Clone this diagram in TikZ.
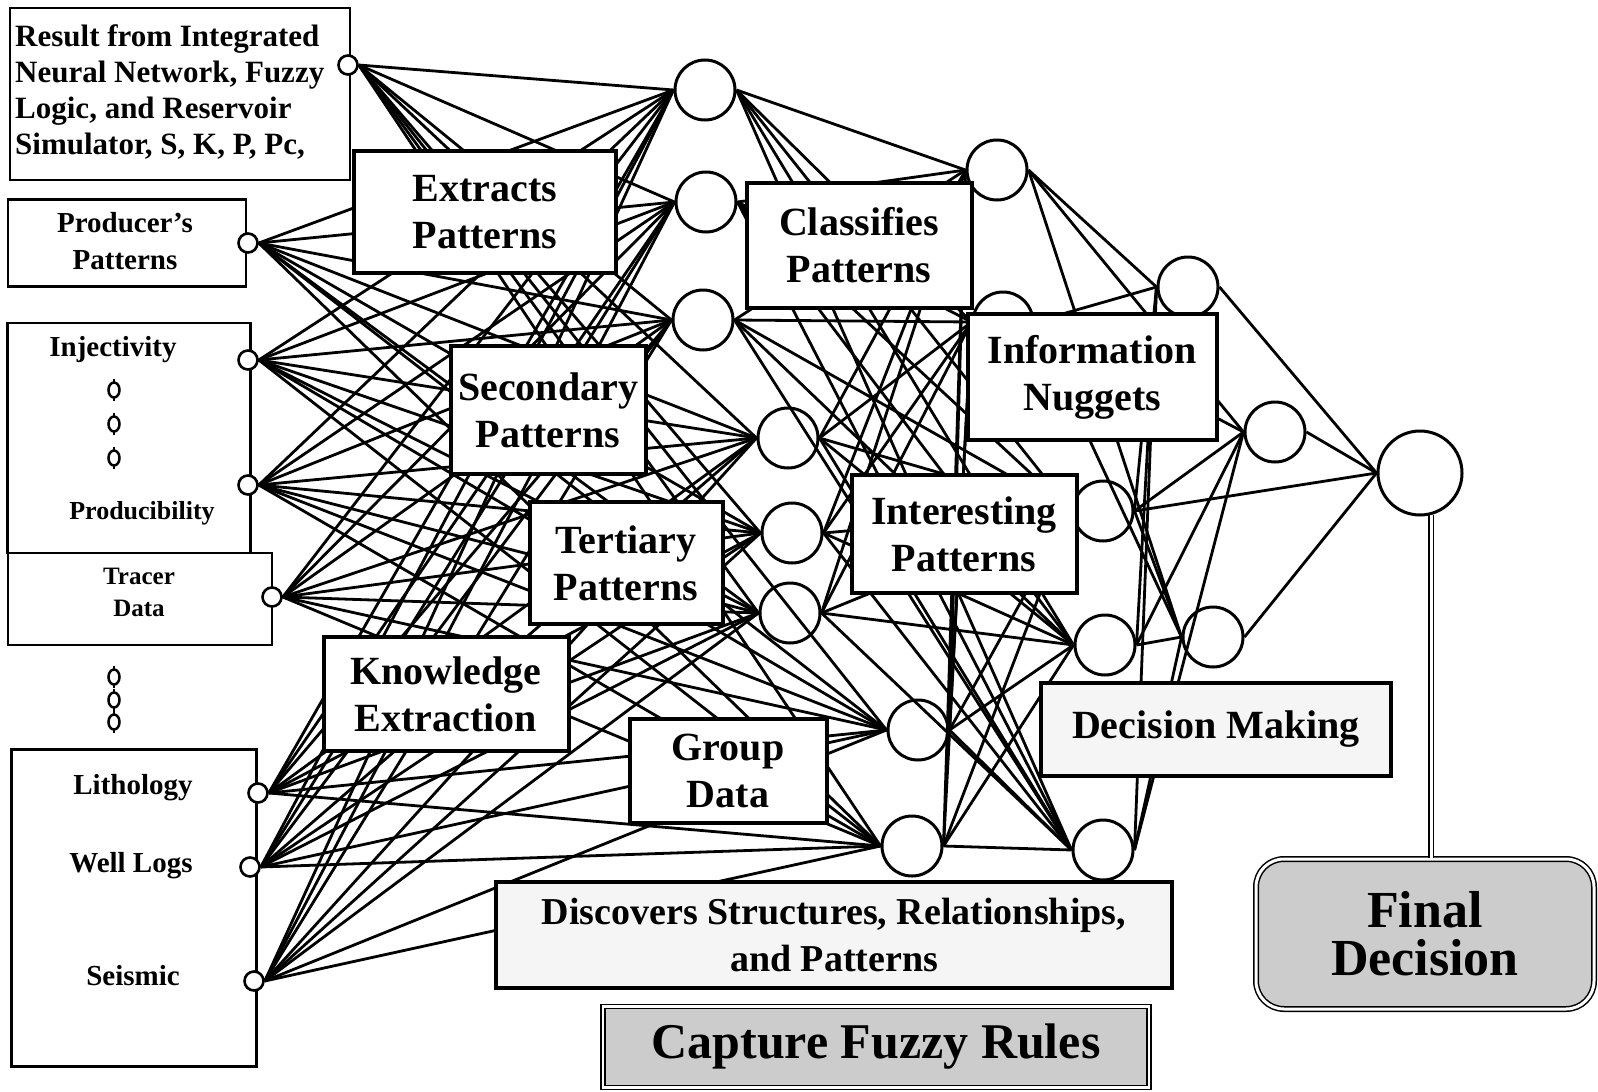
\documentclass[tikz,border=0pt]{standalone}
\usepackage{fontspec}
\setmainfont{Liberation Serif}
\begin{document}
\begin{tikzpicture}[x=1pt,y=-1pt,
  wire/.style={line width=2.8pt},
  lbl/.style={draw,line width=4pt,fill=white,font=\bfseries\fontsize{40}{47}\selectfont,align=center,inner sep=0pt},
  neuron/.style={circle,draw,line width=3pt,fill=white,inner sep=0pt,minimum size=60pt},
  port/.style={circle,draw,line width=2.6pt,fill=white,inner sep=0pt,minimum size=19pt},
  inbox/.style={draw,line width=2.2pt,fill=white,inner sep=0pt},
  intext/.style={font=\bfseries\fontsize{29}{37}\selectfont,align=center,inner sep=0pt},
  dotmark/.style={line width=2.5pt},
]
\useasboundingbox (0,0) rectangle (1598,1092);
\fill[white] (0,0) rectangle (1598,1092);

% ---------- input boxes ----------
\node[inbox,minimum width=340pt,minimum height=172pt] (resbox) at (180,94) {};
\node[intext,align=left,anchor=west,font=\bfseries\fontsize{31}{36}\selectfont] (restxt) at (15,92)
      {Result from Integrated\\Neural Network, Fuzzy\\Logic, and Reservoir\\Simulator, S, K, P, Pc,};
\node[inbox,minimum width=238pt,minimum height=87pt] (prodbox) at (127,243) {};
\node[intext] (prodtxt) at (125,241) {Producer's\\Patterns};
\node[inbox,minimum width=243pt,minimum height=230pt] (injbox) at (129,438) {};
\node[intext] (injtxt) at (113,350) {Injectivity};
\node[intext,font=\bfseries\fontsize{26}{32}\selectfont] (prodiblty) at (142,513) {Producibility};
\node[inbox,minimum width=264pt,minimum height=92pt] (trbox) at (140,599) {};
\node[intext,font=\bfseries\fontsize{25}{32}\selectfont] (trtxt) at (139,592) {Tracer\\Data};
\node[inbox,minimum width=245pt,minimum height=317pt] (litbox) at (134,908) {};
\node[intext] (littxt) at (133,788) {Lithology};
\node[intext] (welltxt) at (131,866) {Well Logs};
\node[intext] (seistxt) at (133,976) {Seismic};
\foreach \y in {390,424,458,677,700,722}{
  \draw[dotmark] (114,\y) ellipse (5.5pt and 7.5pt);
  \draw[line width=1.5pt] (114,\y-11) -- (114,\y-7) (114,\y+7) -- (114,\y+11);
}

% ---------- ports ----------
\node[port] (p1) at (348,65) {};
\node[port] (p2) at (248,243) {};
\node[port] (p3) at (248,360) {};
\node[port] (p4) at (248,485) {};
\node[port] (p5) at (272,597) {};
\node[port] (p6) at (258,793) {};
\node[port] (p7) at (250,867) {};
\node[port] (p8) at (254,981) {};

% ---------- neurons ----------
\node[neuron] (nA) at (705,90) {};
\node[neuron] (nB) at (706,202) {};
\node[neuron] (nC) at (703,320) {};
\node[neuron] (nD) at (788,438) {};
\node[neuron] (nE) at (792,533) {};
\node[neuron] (nF) at (790,613) {};
\node[neuron] (nG) at (918,730) {};
\node[neuron] (nH) at (912,846) {};
\node[neuron] (ma) at (997,170) {};
\node[neuron] (mb) at (1003,322) {};
\node[neuron] (md) at (1103,511) {};
\node[neuron] (me) at (1105,645) {};
\node[neuron] (mf) at (1103,850) {};
\node[neuron] (kc) at (1188,287) {};
\node[neuron] (km) at (1275,432) {};
\node[neuron] (kg) at (1213,637) {};
\node[neuron,minimum size=84pt] (out) at (1420,473) {};

% ---------- wires ----------
\foreach \s in {p1,p2,p3,p4,p5,p6,p7,p8}
  \foreach \t in {nA,nB,nC,nD,nE,nF,nG,nH}
    \draw[wire] (\s.east) -- (\t.west);
\foreach \s in {nA,nB,nC,nD,nE,nF,nG,nH}
  \foreach \t in {ma,mb,md,me,mf}
    \draw[wire] (\s.east) -- (\t.west);
\foreach \s in {ma,mb,md,me,mf}
  \foreach \t in {kc,km,kg}
    \draw[wire] (\s.east) -- (\t.west);
\foreach \s in {kc,km,kg,md}
  \draw[wire] (\s.east) -- (out.west);

% ---------- label boxes ----------
\node[lbl,minimum width=262pt,minimum height=122pt] (extr) at (485,212) {Extracts\\Patterns};
\node[lbl,minimum width=225pt,minimum height=125pt] (clas) at (859,245) {Classifies\\Patterns};
\node[lbl,minimum width=195pt,minimum height=128pt] (secd) at (548,410) {Secondary\\Patterns};
\node[lbl,minimum width=249pt,minimum height=126pt] (info) at (1092,377) {Information\\Nuggets};
\node[lbl,minimum width=193pt,minimum height=122pt] (tert) at (626,563) {Tertiary\\Patterns};
\node[lbl,minimum width=225pt,minimum height=118pt] (intr) at (964,534) {Interesting\\Patterns};
\node[lbl,minimum width=245pt,minimum height=114pt] (know) at (446,694) {Knowledge\\Extraction};
\node[lbl,minimum width=197pt,minimum height=104pt] (grp) at (728,771) {Group\\Data};
\node[lbl,minimum width=350pt,minimum height=93pt,fill=gray!8] (dec) at (1216,729) {Decision Making};
\node[lbl,minimum width=676pt,minimum height=106pt,fill=gray!8,
      font=\bfseries\fontsize{38}{47}\selectfont] (disc) at (834,935)
      {Discovers Structures, Relationships,\\and Patterns};
\node[draw,line width=1.5pt,double,double distance=2.5pt,fill=gray!40,inner sep=0pt,
      minimum width=546pt,minimum height=81pt,
      font=\bfseries\fontsize{50}{56}\selectfont] (cap) at (876,1047) {Capture Fuzzy Rules};
\node[draw,line width=1.5pt,double,double distance=3pt,rounded corners=28pt,fill=gray!40,
      inner sep=0pt,minimum width=338pt,minimum height=150pt,align=center,
      font=\bfseries\fontsize{52}{48}\selectfont] (fd) at (1425,934) {Final\\Decision};

\draw[line width=1.5pt,double,double distance=3pt] (out.-75) -- (out.-75 |- fd.north);
\end{tikzpicture}
\end{document}
